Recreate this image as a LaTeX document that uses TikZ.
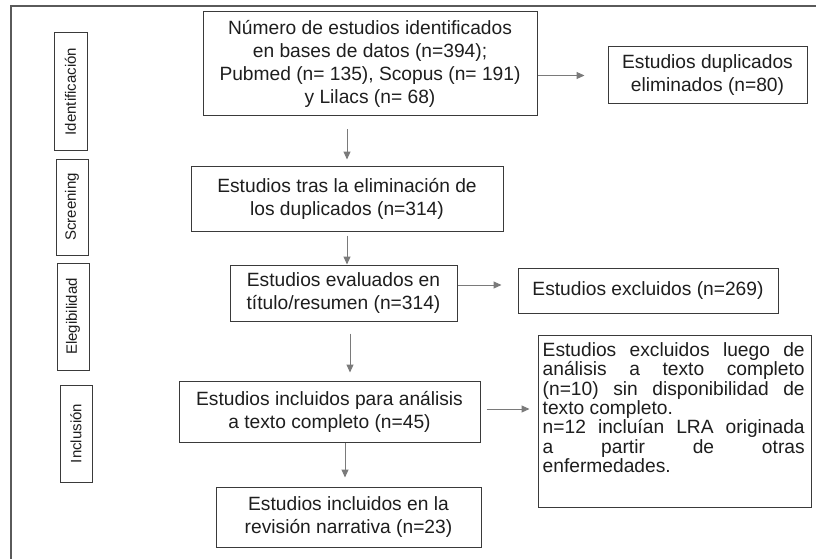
\documentclass[tikz,border=0pt]{standalone}
\usepackage{fontspec}
\setmainfont{Liberation Sans}
\usetikzlibrary{arrows.meta}
\definecolor{boxline}{HTML}{3A3A3A}
\definecolor{arrowgray}{HTML}{7A7A7A}
\definecolor{framegray}{HTML}{5A5A5A}
\definecolor{txt}{HTML}{1E1E1E}
\begin{document}
\begin{tikzpicture}[x=1pt,y=-1pt,
  box/.style={draw=boxline,line width=1pt,inner sep=0pt,align=center,text=txt,font=\fontsize{19.2}{23}\selectfont},
  sidebox/.style={draw=boxline,line width=1pt,inner sep=0pt,rotate=90,text=txt,font=\fontsize{15}{17}\selectfont},
  arr/.style={draw=arrowgray,line width=1pt,-{Triangle[width=7pt,length=8pt]}},
]
\useasboundingbox (0,0) rectangle (816,559);
\fill[white] (0,0) rectangle (816,559);
\draw[framegray,line width=1.5pt] (816,6) -- (11,6) -- (11,559);

% side labels
\node[sidebox,minimum width=117pt,minimum height=33pt] (s1) at (70.5,91.5) {Identificación};
\node[sidebox,minimum width=96pt,minimum height=32pt] (s2) at (72,207) {Screening};
\node[sidebox,minimum width=107pt,minimum height=32pt] (s3) at (73,316.5) {Elegibilidad};
\node[sidebox,minimum width=97pt,minimum height=32pt] (s4) at (76,433.5) {Inclusión};

% main boxes
\node[box,minimum width=334pt,minimum height=104pt] (b1) at (370,64)
  {Número de estudios identificados\\en bases de datos (n=394);\\Pubmed (n= 135), Scopus (n= 191)\\y Lilacs (n= 68)};
\node[box,minimum width=199pt,minimum height=57pt] (dup) at (707.5,75.5)
  {Estudios duplicados\\eliminados (n=80)};
\node[box,minimum width=312pt,minimum height=65pt] (b2) at (347,198.5)
  {Estudios tras la eliminación de\\los duplicados (n=314)};
\node[box,minimum width=227pt,minimum height=56pt] (b3) at (343.5,293)
  {Estudios evaluados en\\título/resumen (n=314)};
\node[box,minimum width=260pt,minimum height=45pt] (excl) at (648,290.5)
  {Estudios excluidos (n=269)};
\node[box,minimum width=301pt,minimum height=61pt] (b4) at (329.5,411.5)
  {Estudios incluidos para análisis\\a texto completo (n=45)};
\node[box,minimum width=273pt,minimum height=172pt] (b5) at (674.5,421) {};
\node[anchor=north west,inner sep=0pt,text=txt] (t5)
  at ([xshift=5pt,yshift=-8pt]b5.north west)
  {\parbox{262pt}{\fontsize{19.2}{19.3}\selectfont\parindent=0pt\hbadness=10000 Estudios excluidos luego de\linebreak análisis a texto completo\linebreak (n=10) sin disponibilidad de\linebreak texto completo.\par n=12 incluían LRA originada\linebreak a partir de otras\linebreak enfermedades.}};
\node[box,minimum width=265pt,minimum height=60pt] (b6) at (348.5,517)
  {Estudios incluidos en la\\revisión narrativa (n=23)};

% connectors
\draw[arr] ([yshift=-11.5pt]b1.east) -- ([xshift=-23pt]dup.west);
\draw[arr] ([yshift=-13pt]b1.south -| b2.north) -- ([yshift=6pt]b2.north);
\draw[arr] ([yshift=-4pt]b2.south) -- (b2.south |- b3.north);
\draw[arr] ([yshift=8pt]b3.east) -- ([xshift=-16pt,yshift=5.5pt]excl.west);
\draw[arr] ([xshift=6.5pt,yshift=-12pt]b3.south) -- ([xshift=20.5pt,yshift=8pt]b4.north);
\draw[arr] ([xshift=6pt,yshift=2.5pt]b4.east) -- ([xshift=-8pt,yshift=12pt]b5.west);
\draw[arr] ([xshift=15.5pt]b4.south) -- ([xshift=-3.5pt,yshift=9pt]b6.north);
\end{tikzpicture}
\end{document}
